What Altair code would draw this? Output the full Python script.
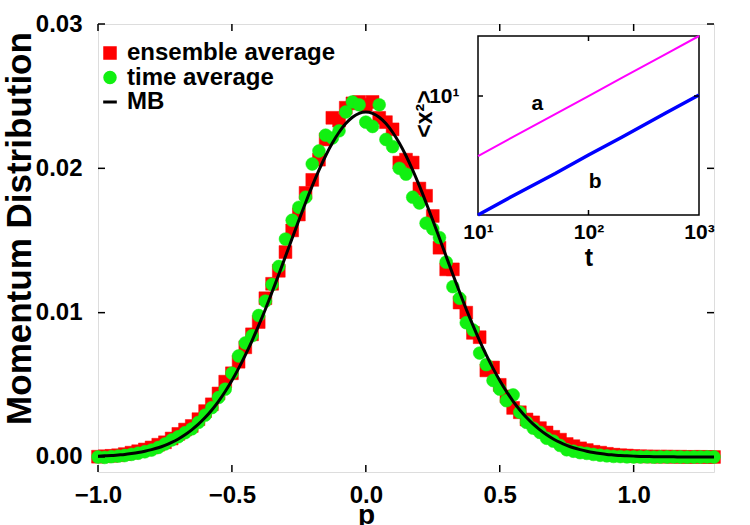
import altair as alt
import pandas as pd

# Momentum grid and the three momentum distributions
P = [-1.0, -0.975, -0.95, -0.925, -0.9, -0.875, -0.85, -0.825, -0.8, -0.775,
     -0.75, -0.725, -0.7, -0.675, -0.65, -0.625, -0.6, -0.575, -0.55, -0.525,
     -0.5, -0.475, -0.45, -0.425, -0.4, -0.375, -0.35, -0.325, -0.3, -0.275,
     -0.25, -0.225, -0.2, -0.175, -0.15, -0.125, -0.1, -0.075, -0.05, -0.025,
     0.0, 0.025, 0.05, 0.075, 0.1, 0.125, 0.15, 0.175, 0.2, 0.225,
     0.25, 0.275, 0.3, 0.325, 0.35, 0.375, 0.4, 0.425, 0.45, 0.475,
     0.5, 0.525, 0.55, 0.575, 0.6, 0.625, 0.65, 0.675, 0.7, 0.725,
     0.75, 0.775, 0.8, 0.825, 0.85, 0.875, 0.9, 0.925, 0.95, 0.975,
     1.0, 1.025, 1.05, 1.075, 1.1, 1.125, 1.15, 1.175, 1.2, 1.225,
     1.25, 1.275, 1.3]

ENSEMBLE = [0.00002, 0.00005, 0.00008, 0.00012, 0.00020, 0.00030, 0.00040, 0.00052, 0.00066, 0.00085,
            0.00102, 0.00128, 0.00160, 0.00190, 0.00215, 0.00262, 0.00318, 0.00365, 0.00440, 0.00522,
            0.00580, 0.00660, 0.00760, 0.00850, 0.00935, 0.01100, 0.01200, 0.01290, 0.01420, 0.01570,
            0.01680, 0.01830, 0.01920, 0.02060, 0.02200, 0.02350, 0.02330, 0.02420, 0.02450, 0.02460,
            0.02440, 0.02460, 0.02350, 0.02320, 0.02270, 0.02040, 0.02060, 0.02040, 0.01860, 0.01810,
            0.01670, 0.01450, 0.01300, 0.01300, 0.01070, 0.01000, 0.00860, 0.00830, 0.00600, 0.00620,
            0.00500, 0.00420, 0.00340, 0.00310, 0.00260, 0.00240, 0.00200, 0.00170, 0.00140, 0.00120,
            0.00090, 0.00075, 0.00060, 0.00048, 0.00036, 0.00030, 0.00022, 0.00016, 0.00012, 0.00010,
            0.00006, 0.00005, 0.00004, 0.00003, 0.00002, 0.00003, 0.00001, 0.00002, 0.00000, 0.00001,
            0.00001, 0.00000, 0.00000]

TIME_AVG = [0.00000, -0.00003, 0.00002, 0.00006, 0.00010, 0.00018, 0.00026, 0.00036, 0.00048, 0.00066,
            0.00090, 0.00118, 0.00140, 0.00168, 0.00195, 0.00240, 0.00290, 0.00342, 0.00412, 0.00470,
            0.00580, 0.00700, 0.00790, 0.00840, 0.00980, 0.01080, 0.01195, 0.01320, 0.01510, 0.01640,
            0.01730, 0.01800, 0.02030, 0.02120, 0.02230, 0.02210, 0.02260, 0.02390, 0.02460, 0.02440,
            0.02320, 0.02290, 0.02440, 0.02200, 0.02150, 0.02000, 0.01960, 0.01800, 0.01760, 0.01620,
            0.01580, 0.01520, 0.01350, 0.01180, 0.01100, 0.00930, 0.00880, 0.00720, 0.00640, 0.00530,
            0.00470, 0.00390, 0.00430, 0.00310, 0.00240, 0.00200, 0.00170, 0.00130, 0.00110, 0.00080,
            0.00050, 0.00040, 0.00030, 0.00025, 0.00018, 0.00012, 0.00008, 0.00004, 0.00003, 0.00001,
            0.00000, 0.00000, 0.00001, -0.00001, 0.00000, 0.00000, 0.00001, 0.00000, -0.00001, 0.00000,
            0.00000, 0.00001, 0.00000]

MB = [0.00006, 0.00008, 0.00010, 0.00014, 0.00018, 0.00024, 0.00031, 0.00040, 0.00051, 0.00064,
      0.00081, 0.00101, 0.00125, 0.00154, 0.00188, 0.00227, 0.00273, 0.00326, 0.00386, 0.00454,
      0.00530, 0.00614, 0.00706, 0.00805, 0.00912, 0.01024, 0.01143, 0.01265, 0.01390, 0.01515,
      0.01640, 0.01762, 0.01878, 0.01987, 0.02087, 0.02175, 0.02250, 0.02310, 0.02354, 0.02381,
      0.02390, 0.02381, 0.02354, 0.02310, 0.02250, 0.02175, 0.02087, 0.01987, 0.01878, 0.01762,
      0.01640, 0.01515, 0.01390, 0.01265, 0.01143, 0.01024, 0.00912, 0.00805, 0.00706, 0.00614,
      0.00530, 0.00454, 0.00386, 0.00326, 0.00273, 0.00227, 0.00188, 0.00154, 0.00125, 0.00101,
      0.00081, 0.00064, 0.00051, 0.00040, 0.00031, 0.00024, 0.00018, 0.00014, 0.00010, 0.00008,
      0.00006, 0.00004, 0.00003, 0.00002, 0.00002, 0.00001, 0.00001, 0.00000, 0.00000, 0.00000,
      0.00000, 0.00000, 0.00000]

SERIES = ["ensemble average", "time average", "MB"]
COLORS = ["#ff0000", "#11f011", "#000000"]
# legend glyphs: square, circle, and a short horizontal dash for the MB curve
SHAPES = ["square", "circle", "M-1.3,0H1.3"]

X_TICKS = [-1.0, -0.5, 0.0, 0.5, 1.0]
Y_TICKS = [0.0, 0.01, 0.02, 0.03]

# Inset: mean squared displacement against time
T = [10, 20, 50, 100, 200, 500, 1000]
MSD_A = [1.0, 2.0, 5.0, 10.0, 20.0, 50.0, 100.0]
MSD_B = [0.104, 0.21, 0.51, 1.04, 2.05, 5.2, 10.4]
INSET_LABELS = ["a", "b"]
INSET_LABEL_T = [34.5, 114.6]
INSET_LABEL_Y = [5.84, 0.293]

W, H = 616, 448
FONT = "Liberation Sans"
BOLD = "bold"

points = pd.DataFrame({
    "p": P + P,
    "value": ENSEMBLE + TIME_AVG,
    "series": [SERIES[0]] * len(P) + [SERIES[1]] * len(P),
})
mb = pd.DataFrame({"p": P, "value": MB, "series": SERIES[2]})

xs = alt.Scale(domain=[-1.0, 1.3], nice=False, zero=False)
ys = alt.Scale(domain=[-0.00104, 0.0300], nice=False, zero=False)

axis_text = dict(labelFont=FONT, titleFont=FONT, labelFontWeight=BOLD, titleFontWeight=BOLD,
                 labelColor="black", titleColor="black", labelFlush=False,
                 ticks=False, domain=False, grid=False)

x_axis = alt.Axis(values=X_TICKS, format=".1f", labelFontSize=24, labelPadding=11,
                  title="p", titleFontSize=28, titleX=268, titleY=51,
                  titleBaseline="alphabetic", **axis_text)
y_axis = alt.Axis(values=Y_TICKS, format=".2f", labelFontSize=24, labelPadding=16,
                  title="Momentum Distribution", titleFontSize=35, titleX=-68, titleY=204,
                  titleBaseline="alphabetic", **axis_text)

legend = alt.Legend(orient="none", legendX=0, legendY=17, title=None, padding=0,
                    labelFontSize=24, labelFontWeight=BOLD, labelFont=FONT,
                    labelColor="black", labelLimit=400, labelOffset=5,
                    symbolSize=110, symbolStrokeWidth=3, rowPadding=0.5)
color = alt.Color("series:N", scale=alt.Scale(domain=SERIES, range=COLORS), legend=legend)
stroke = alt.Stroke("series:N", scale=alt.Scale(domain=SERIES, range=COLORS), legend=legend)
shape = alt.Shape("series:N", scale=alt.Scale(domain=SERIES, range=SHAPES), legend=legend)

ens_layer = alt.Chart(points).transform_filter(
    alt.datum.series == SERIES[0]
).mark_point(filled=True, size=165, opacity=1, strokeWidth=0.5).encode(
    x=alt.X("p:Q", scale=xs, axis=x_axis),
    y=alt.Y("value:Q", scale=ys, axis=y_axis),
    color=color, stroke=stroke, shape=shape,
)
time_layer = alt.Chart(points).transform_filter(
    alt.datum.series == SERIES[1]
).mark_point(filled=True, size=165, opacity=1, strokeWidth=0.5).encode(
    x=alt.X("p:Q", scale=xs), y=alt.Y("value:Q", scale=ys),
    color=color, stroke=stroke, shape=shape,
)
mb_layer = alt.Chart(mb).mark_line(strokeWidth=3, interpolate="monotone").encode(
    x=alt.X("p:Q", scale=xs), y=alt.Y("value:Q", scale=ys), color=color,
)

# inward ticks on all four sides of the frame
xt = pd.DataFrame({"p": X_TICKS})
yt = pd.DataFrame({"value": Y_TICKS})
TICK = 7
tick_style = dict(color="black", strokeWidth=1.5)
ticks_bottom = alt.Chart(xt).mark_rule(**tick_style).encode(
    x=alt.X("p:Q", scale=xs), y=alt.value(H), y2=alt.value(H - TICK))
ticks_top = alt.Chart(xt).mark_rule(**tick_style).encode(
    x=alt.X("p:Q", scale=xs), y=alt.value(0), y2=alt.value(TICK))
ticks_left = alt.Chart(yt).mark_rule(**tick_style).encode(
    y=alt.Y("value:Q", scale=ys), x=alt.value(0), x2=alt.value(TICK))
ticks_right = alt.Chart(yt).mark_rule(**tick_style).encode(
    y=alt.Y("value:Q", scale=ys), x=alt.value(W), x2=alt.value(W - TICK))

main = alt.layer(ens_layer, time_layer, mb_layer,
                 ticks_bottom, ticks_top, ticks_left, ticks_right)

# ---- inset ----
IN_X0, IN_X1 = 380, 601
IN_Y0, IN_Y1 = 191, 12
xs_in = alt.Scale(type="log", domain=[10, 1000], range=[IN_X0, IN_X1], nice=False)
ys_in = alt.Scale(type="log", domain=[0.104, 100], range=[IN_Y0, IN_Y1], nice=False)

x_in_axis = alt.Axis(orient="bottom", offset=-(H - IN_Y0), values=[10, 100, 1000],
                     labelExpr="datum.value == 10 ? '10¹' : datum.value == 100 ? '10²' : '10³'",
                     labelFontSize=21, labelPadding=6,
                     title="t", titleFontSize=25, titleX=(IN_X0 + IN_X1) / 2, titleY=50,
                     titleBaseline="alphabetic", **axis_text)
y_in_axis = alt.Axis(orient="left", offset=-IN_X0, values=[10], labelExpr="'10¹'",
                     labelFontSize=21, labelPadding=19,
                     title="<x²>", titleFontSize=23, titleX=-47, titleY=89.5,
                     titleBaseline="alphabetic", **axis_text)

box = pd.DataFrame({"t": [10], "t2": [1000], "msd": [0.104], "msd2": [100]})
inset_box = alt.Chart(box).mark_rect(fill="white", stroke="black", strokeWidth=1.5).encode(
    x=alt.X("t:Q", scale=xs_in, axis=x_in_axis), x2="t2:Q",
    y=alt.Y("msd:Q", scale=ys_in, axis=y_in_axis), y2="msd2:Q",
)
line_a = alt.Chart(pd.DataFrame({"t": T, "msd": MSD_A})).mark_line(
    color="#ff00ff", strokeWidth=2).encode(
    x=alt.X("t:Q", scale=xs_in), y=alt.Y("msd:Q", scale=ys_in))
line_b = alt.Chart(pd.DataFrame({"t": T, "msd": MSD_B})).mark_line(
    color="#0000ff", strokeWidth=3.5).encode(
    x=alt.X("t:Q", scale=xs_in), y=alt.Y("msd:Q", scale=ys_in))
labels = alt.Chart(pd.DataFrame({"t": INSET_LABEL_T, "msd": INSET_LABEL_Y,
                                 "label": INSET_LABELS})).mark_text(
    fontSize=21, fontWeight=BOLD, font=FONT, color="black",
    align="center", baseline="alphabetic").encode(
    x=alt.X("t:Q", scale=xs_in), y=alt.Y("msd:Q", scale=ys_in), text="label:N")

IT = 5
in_xt = pd.DataFrame({"t": [100]})
in_yt = pd.DataFrame({"msd": [10]})
in_ticks = [
    alt.Chart(in_xt).mark_rule(**tick_style).encode(
        x=alt.X("t:Q", scale=xs_in), y=alt.value(IN_Y0), y2=alt.value(IN_Y0 - IT)),
    alt.Chart(in_xt).mark_rule(**tick_style).encode(
        x=alt.X("t:Q", scale=xs_in), y=alt.value(IN_Y1), y2=alt.value(IN_Y1 + IT)),
    alt.Chart(in_yt).mark_rule(**tick_style).encode(
        y=alt.Y("msd:Q", scale=ys_in), x=alt.value(IN_X0), x2=alt.value(IN_X0 + IT)),
    alt.Chart(in_yt).mark_rule(**tick_style).encode(
        y=alt.Y("msd:Q", scale=ys_in), x=alt.value(IN_X1), x2=alt.value(IN_X1 - IT)),
]

inset = alt.layer(inset_box, line_a, line_b, labels, *in_ticks)

chart = alt.layer(main, inset).resolve_scale(
    x="independent", y="independent"
).properties(
    width=W, height=H,
    autosize=alt.AutoSizeParams(type="none"),
    padding={"left": 98, "top": 24, "right": 36, "bottom": 53},
).configure_view(
    stroke="black", strokeWidth=1.5
).configure(background="white")

chart.save("out.html", embed_options={"renderer": "svg", "actions": False})
